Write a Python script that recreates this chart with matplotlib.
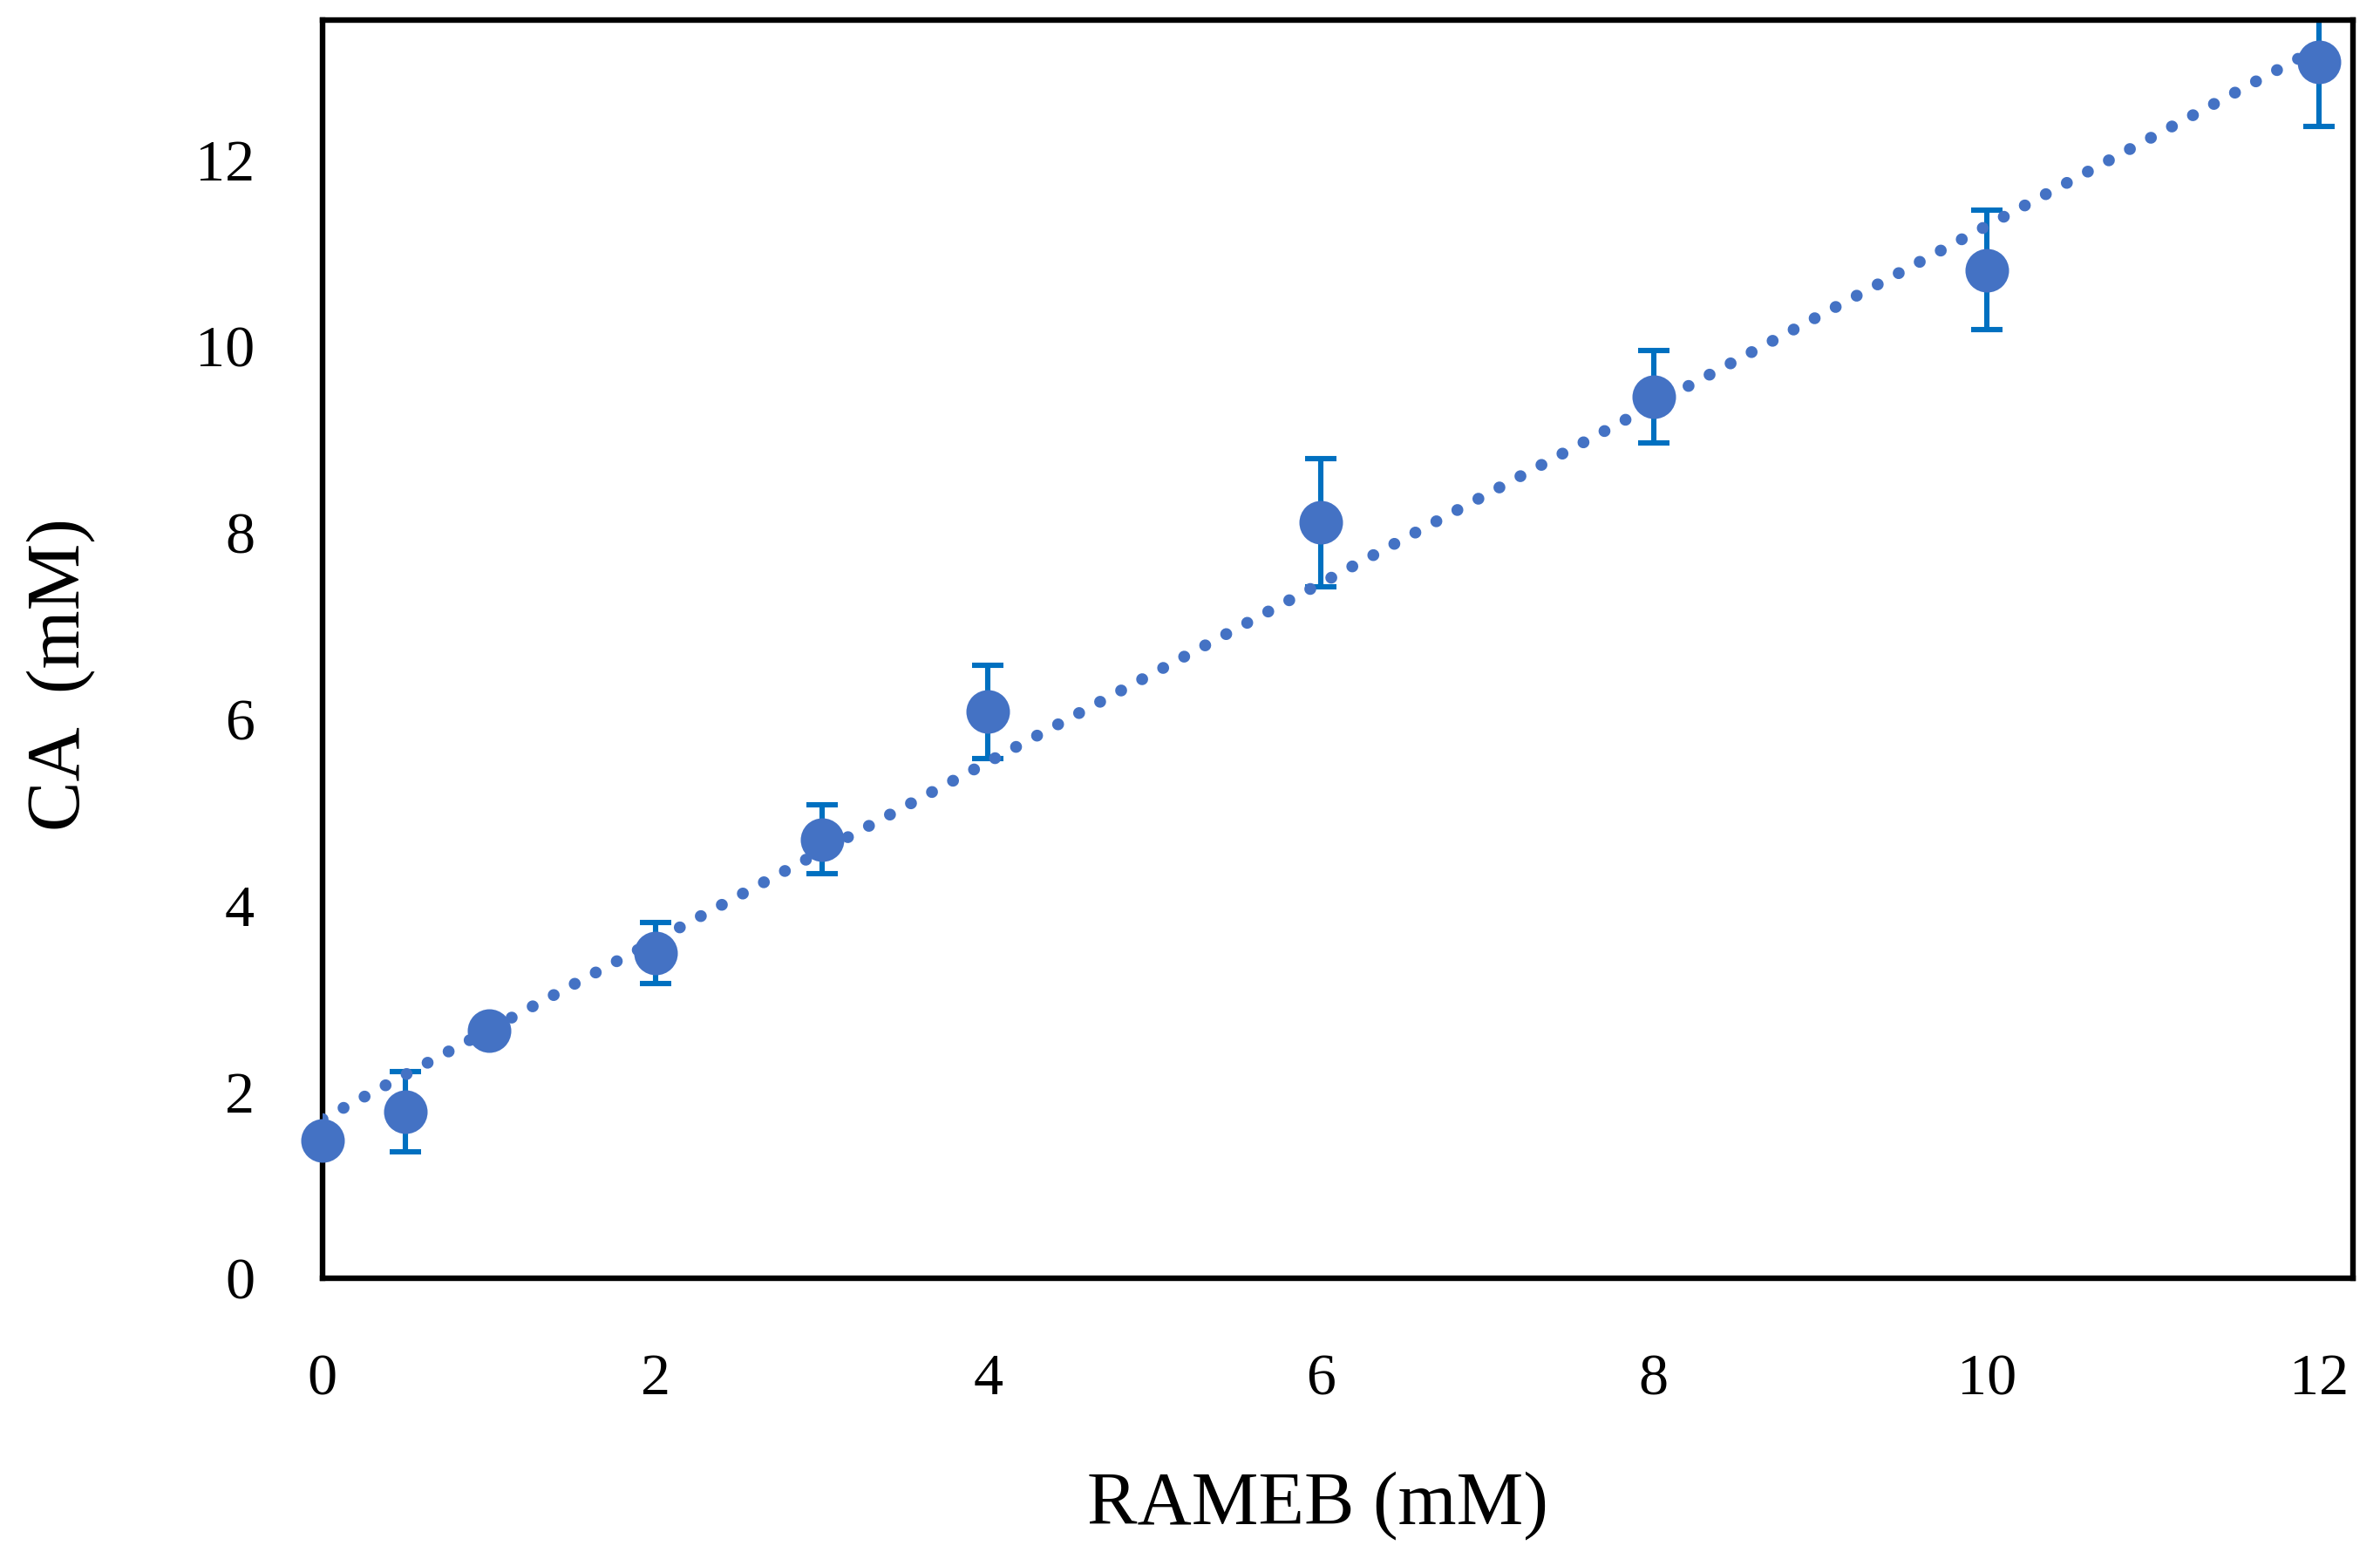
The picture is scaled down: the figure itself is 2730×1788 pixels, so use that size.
import matplotlib.pyplot as plt
import numpy as np

rameb = [0, 0.5, 1, 2, 3, 4, 6, 8, 10, 12]
ca = [1.48, 1.79, 2.66, 3.49, 4.71, 6.08, 8.11, 9.46, 10.82, 13.05]
ca_err = [0, 0.43, 0, 0.33, 0.37, 0.50, 0.69, 0.50, 0.64, 0.69]
x_ticks = [0, 2, 4, 6, 8, 10, 12]
y_ticks = [0, 2, 4, 6, 8, 10, 12]

plt.rcParams['font.family'] = ['Liberation Serif', 'DejaVu Serif']

fig = plt.figure(figsize=(13.65, 8.94), dpi=200)
ax = fig.add_axes([0.1355, 0.180, 0.8530, 0.807])

# error bars (clipped by the frame), markers on top
ax.errorbar(rameb, ca, yerr=ca_err, fmt='none', ecolor='#0070C0',
            elinewidth=2.2, capsize=6.5, capthick=2.2, zorder=2)
ax.plot(rameb, ca, 'o', color='#4472C4', markersize=17, zorder=3, clip_on=False)

# linear trendline, dotted
k, b = np.polyfit(rameb, ca, 1)
xt = np.array([0, 12])
ax.plot(xt, k * xt + b, color='#4472C4', lw=4.9,
        linestyle=(0, (0.01, 2.0)), dash_capstyle='round', zorder=4)

ax.set_xlim(0, 12.2)
ax.set_ylim(0, 13.5)
ax.set_xticks(x_ticks)
ax.set_yticks(y_ticks)
ax.tick_params(length=0, labelsize=24.5)
ax.tick_params(axis='y', pad=28)
ax.tick_params(axis='x', pad=31)
for s in ax.spines.values():
    s.set_linewidth(2.3)
    s.set_color('black')

ax.set_xlabel('RAMEB (mM)', fontsize=31)
ax.set_ylabel('CA  (mM)', fontsize=31)
ax.xaxis.set_label_coords(0.49, -0.153)
ax.yaxis.set_label_coords(-0.112, 0.48)

fig.savefig('out.png', dpi=200)
